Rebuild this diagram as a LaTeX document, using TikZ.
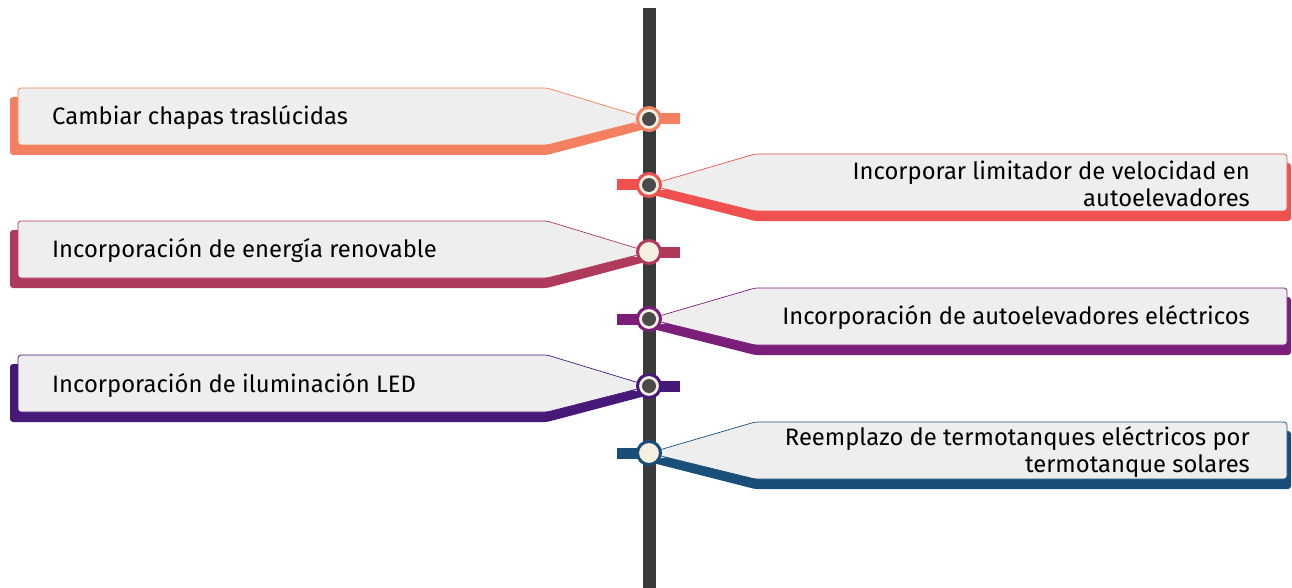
\documentclass[tikz,border=0pt]{standalone}
\usepackage{fontspec}
\setmainfont{Fira Sans}
\usepackage{xcolor}
\usepackage{tikz}
\usetikzlibrary{positioning,calc}

\definecolor{cOne}{RGB}{245,128,96}
\definecolor{cTwo}{RGB}{240,80,79}
\definecolor{cThree}{RGB}{175,58,91}
\definecolor{cFour}{RGB}{122,30,122}
\definecolor{cFive}{RGB}{70,25,120}
\definecolor{cSix}{RGB}{24,78,119}
\definecolor{boxgray}{RGB}{238,238,238}
\definecolor{bargray}{RGB}{58,58,58}
\definecolor{dotgray}{RGB}{74,74,74}
\definecolor{cream}{RGB}{246,240,225}

\tikzset{
    itemtext/.style={font=\fontsize{23.8}{27.5}\selectfont, text=black, inner sep=0pt},
    stepmark/.style={circle, minimum size=23pt, inner sep=0pt, fill=cream, line width=3pt},
    stepdot/.style={circle, minimum size=14pt, inner sep=0pt, fill=dotgray},
    stub/.style={line width=11pt},
}

\begin{document}
\begin{tikzpicture}[x=1pt,y=-1pt]
    \useasboundingbox (0,0) rectangle (1292,588);
    \fill[bargray] (643,8) rectangle (656,588);

    % items on the left
    \foreach \cy/\col/\name/\dotflag/\txt in {
        119/cOne/a/1/{Cambiar chapas traslúcidas},
        252/cThree/c/0/{Incorporación de energía renovable},
        386/cFive/e/1/{Incorporación de iluminación LED}} {
        \coordinate (p\name) at (649,\cy);
        \coordinate (s\name) at (680,\cy);
        \fill[\col, rounded corners=3pt] (10,\cy-22) -- (547,\cy-22) -- (649,\cy+9) -- (547,\cy+36) -- (10,\cy+36) -- cycle;
        \filldraw[fill=boxgray, draw=\col, line width=0.7pt, rounded corners=3pt] (18,\cy-31) -- (547,\cy-31) -- (p\name) -- (547,\cy+26) -- (18,\cy+26) -- cycle;
        \draw[stub, \col] (p\name) -- (s\name);
        \node[stepmark, draw=\col] (m\name) at (p\name) {};
        \ifnum\dotflag=1 \node[stepdot] at (m\name) {}; \fi
        \node[itemtext, anchor=west] (t\name) at (52,\cy-1) {\txt};
    }

    % items on the right
    \foreach \cy/\col/\name/\dotflag/\txt in {
        185/cTwo/b/1/{Incorporar limitador de velocidad en\\autoelevadores},
        319/cFour/d/1/{Incorporación de autoelevadores eléctricos},
        453/cSix/f/0/{Reemplazo de termotanques eléctricos por\\termotanque solares}} {
        \coordinate (p\name) at (649,\cy);
        \coordinate (s\name) at (617,\cy);
        \fill[\col, rounded corners=3pt] (755,\cy-22) -- (1291,\cy-22) -- (1291,\cy+36) -- (755,\cy+36) -- (649,\cy+9) -- cycle;
        \filldraw[fill=boxgray, draw=\col, line width=0.7pt, rounded corners=3pt] (755,\cy-31) -- (1287,\cy-31) -- (1287,\cy+26) -- (755,\cy+26) -- (p\name) -- cycle;
        \draw[stub, \col] (p\name) -- (s\name);
        \node[stepmark, draw=\col] (m\name) at (p\name) {};
        \ifnum\dotflag=1 \node[stepdot] at (m\name) {}; \fi
        \node[itemtext, anchor=east, align=right] (t\name) at (1250,\cy-1) {\txt};
    }
\end{tikzpicture}
\end{document}
